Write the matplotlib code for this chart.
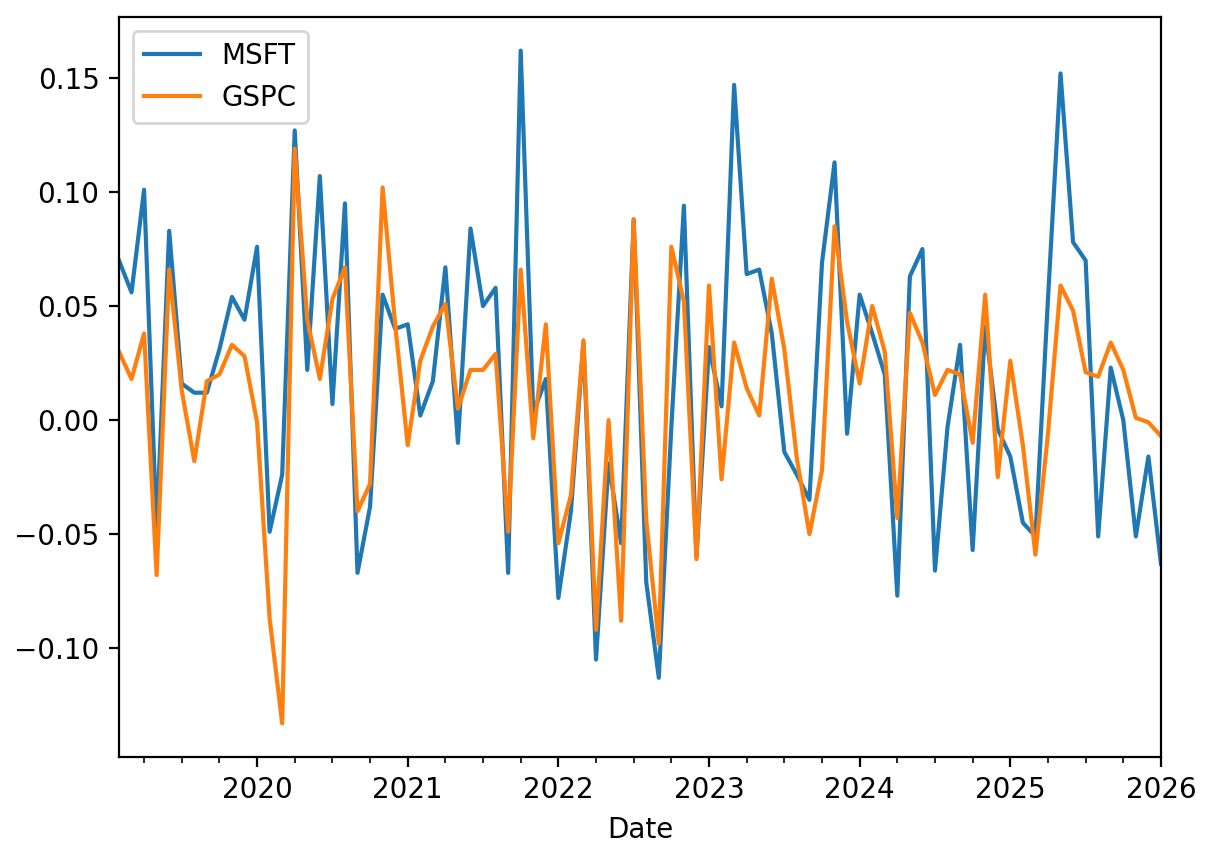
import pandas as pd
import matplotlib
matplotlib.use("Agg")
import matplotlib.pyplot as plt

# monthly returns, Feb 2019 .. Jan 2026
START = "2019-02-28"
msft = [0.070, 0.056, 0.101, -0.048, 0.083, 0.016, 0.012, 0.012, 0.031, 0.054,
        0.044, 0.076, -0.049, -0.024, 0.127, 0.022, 0.107, 0.007, 0.095, -0.067,
        -0.038, 0.055, 0.040, 0.042, 0.002, 0.017, 0.067, -0.010, 0.084, 0.050,
        0.058, -0.067, 0.162, 0.003, 0.018, -0.078, -0.040, 0.034, -0.105, -0.019,
        -0.054, 0.088, -0.071, -0.113, -0.003, 0.094, -0.060, 0.032, 0.006, 0.147,
        0.064, 0.066, 0.038, -0.014, -0.024, -0.035, 0.069, 0.113, -0.006, 0.055,
        0.038, 0.020, -0.077, 0.063, 0.075, -0.066, -0.003, 0.033, -0.057, 0.041,
        -0.004, -0.016, -0.045, -0.051, 0.053, 0.152, 0.078, 0.070, -0.051, 0.023,
        0.000, -0.051, -0.016, -0.063]
gspc = [0.030, 0.018, 0.038, -0.068, 0.066, 0.013, -0.018, 0.017, 0.020, 0.033,
        0.028, -0.001, -0.087, -0.133, 0.119, 0.044, 0.018, 0.053, 0.067, -0.040,
        -0.028, 0.102, 0.042, -0.011, 0.026, 0.041, 0.051, 0.005, 0.022, 0.022,
        0.029, -0.049, 0.066, -0.008, 0.042, -0.054, -0.033, 0.035, -0.092, 0.000,
        -0.088, 0.088, -0.044, -0.098, 0.076, 0.052, -0.061, 0.059, -0.026, 0.034,
        0.014, 0.002, 0.062, 0.031, -0.017, -0.050, -0.022, 0.085, 0.043, 0.016,
        0.050, 0.030, -0.043, 0.047, 0.034, 0.011, 0.022, 0.020, -0.010, 0.055,
        -0.025, 0.026, -0.011, -0.059, -0.006, 0.059, 0.048, 0.021, 0.019, 0.034,
        0.022, 0.001, -0.001, -0.007]

idx = pd.date_range(START, periods=len(msft), freq="ME", name="Date")
df = pd.DataFrame({"MSFT": msft, "GSPC": gspc}, index=idx)

fig = plt.figure(figsize=(6.07, 4.29), dpi=200)
ax = fig.add_axes([0.098, 0.1177, 0.8583, 0.8625])
df.plot(ax=ax)
ax.legend(loc="upper left")
fig.savefig("out.png", dpi=200)
